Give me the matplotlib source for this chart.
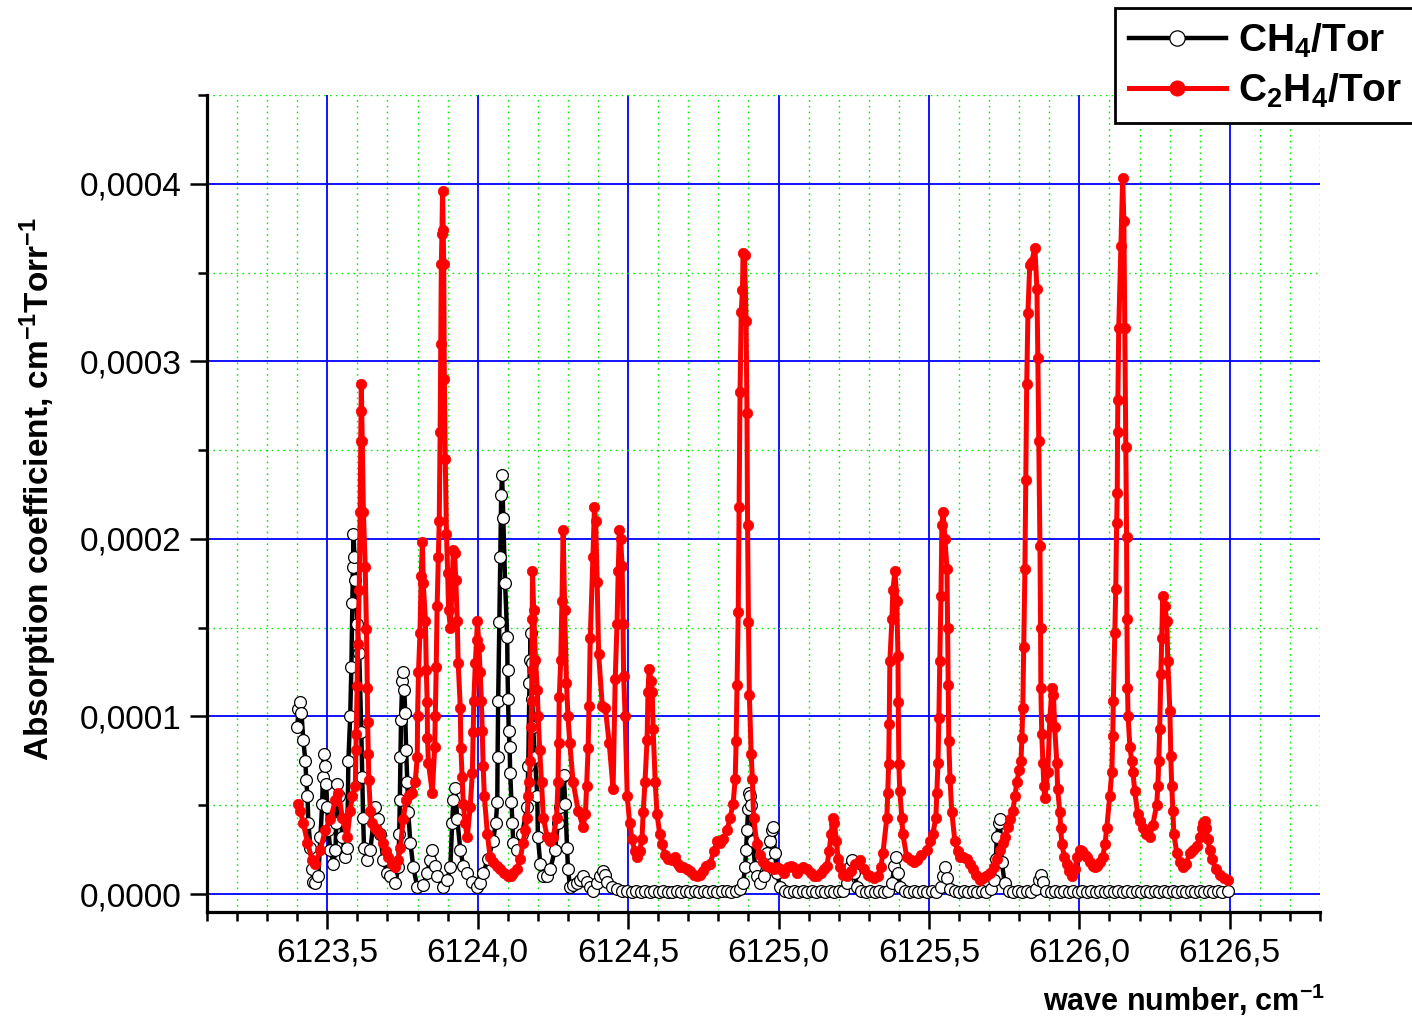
import numpy as np
import matplotlib
matplotlib.use("Agg")
import matplotlib.pyplot as plt
from matplotlib.ticker import MultipleLocator, FuncFormatter

# ---------------- data (x in cm-1, y in units of 1e-4 cm-1 Torr-1) ----------------
Y_UNIT = 1e-4

ch4_points = [
    (6123.400, 0.94), (6123.404, 1.04), (6123.410, 1.08), (6123.414, 1.02), (6123.420, 0.87),
    (6123.427, 0.75), (6123.430, 0.64), (6123.434, 0.55), (6123.437, 0.40), (6123.444, 0.26),
    (6123.450, 0.14), (6123.453, 0.07), (6123.460, 0.06), (6123.470, 0.10), (6123.477, 0.32),
    (6123.483, 0.51), (6123.485, 0.66), (6123.488, 0.79), (6123.493, 0.72), (6123.496, 0.62),
    (6123.500, 0.49), (6123.503, 0.36), (6123.510, 0.25), (6123.520, 0.17), (6123.527, 0.25),
    (6123.530, 0.40), (6123.533, 0.62), (6123.540, 0.55), (6123.550, 0.32), (6123.560, 0.21),
    (6123.566, 0.26), (6123.570, 0.75), (6123.576, 1.00), (6123.580, 1.28), (6123.583, 1.64),
    (6123.585, 1.84), (6123.587, 2.03), (6123.590, 1.90), (6123.593, 1.77), (6123.600, 1.52),
    (6123.606, 1.36), (6123.613, 0.91), (6123.616, 0.66), (6123.619, 0.43), (6123.622, 0.26),
    (6123.633, 0.19), (6123.643, 0.25), (6123.659, 0.49), (6123.669, 0.42), (6123.676, 0.34),
    (6123.686, 0.19), (6123.700, 0.12), (6123.709, 0.10), (6123.726, 0.06), (6123.736, 0.15),
    (6123.739, 0.34), (6123.741, 0.53), (6123.743, 0.77), (6123.745, 0.98), (6123.749, 1.20),
    (6123.752, 1.25), (6123.756, 1.15), (6123.759, 1.02), (6123.762, 0.81), (6123.766, 0.63),
    (6123.769, 0.46), (6123.776, 0.29), (6123.786, 0.15), (6123.799, 0.04), (6123.819, 0.05),
    (6123.832, 0.12), (6123.842, 0.19), (6123.849, 0.25), (6123.857, 0.16), (6123.865, 0.10),
    (6123.885, 0.04), (6123.899, 0.08), (6123.909, 0.15), (6123.915, 0.40), (6123.919, 0.53),
    (6123.925, 0.60), (6123.932, 0.42), (6123.942, 0.25), (6123.952, 0.16), (6123.965, 0.12),
    (6123.982, 0.07), (6123.998, 0.04), (6124.008, 0.06), (6124.018, 0.12), (6124.035, 0.20),
    (6124.051, 0.30), (6124.060, 0.40), (6124.065, 0.52), (6124.066, 0.77), (6124.068, 1.09),
    (6124.072, 1.53), (6124.075, 1.90), (6124.078, 2.25), (6124.081, 2.36), (6124.085, 2.12),
    (6124.091, 1.75), (6124.098, 1.45), (6124.099, 1.26), (6124.101, 1.10), (6124.103, 0.92),
    (6124.106, 0.83), (6124.108, 0.68), (6124.112, 0.52), (6124.115, 0.40), (6124.118, 0.29),
    (6124.131, 0.25), (6124.148, 0.34), (6124.164, 0.49), (6124.168, 0.72), (6124.172, 1.19),
    (6124.174, 1.32), (6124.176, 1.47), (6124.179, 1.30), (6124.181, 1.10), (6124.184, 0.94),
    (6124.190, 0.77), (6124.198, 0.55), (6124.200, 0.32), (6124.208, 0.17), (6124.218, 0.10),
    (6124.230, 0.10), (6124.241, 0.14), (6124.257, 0.25), (6124.267, 0.40), (6124.274, 0.49),
    (6124.281, 0.66), (6124.286, 0.67), (6124.291, 0.51), (6124.297, 0.26), (6124.300, 0.14),
    (6124.307, 0.04), (6124.318, 0.05), (6124.330, 0.06), (6124.340, 0.08), (6124.350, 0.10),
    (6124.364, 0.07), (6124.374, 0.04), (6124.384, 0.02), (6124.395, 0.06), (6124.407, 0.10),
    (6124.417, 0.13), (6124.424, 0.11), (6124.430, 0.07), (6124.445, 0.04), (6124.463, 0.03),
    (6124.480, 0.02), (6124.497, 0.02), (6124.512, 0.01), (6124.527, 0.02), (6124.542, 0.01),
    (6124.557, 0.02), (6124.572, 0.01), (6124.587, 0.02), (6124.602, 0.01), (6124.617, 0.02),
    (6124.632, 0.01), (6124.647, 0.01), (6124.662, 0.02), (6124.677, 0.01), (6124.692, 0.02),
    (6124.707, 0.01), (6124.722, 0.02), (6124.737, 0.01), (6124.752, 0.02), (6124.767, 0.01),
    (6124.782, 0.02), (6124.797, 0.01), (6124.812, 0.02), (6124.827, 0.02), (6124.842, 0.01),
    (6124.857, 0.02), (6124.872, 0.03), (6124.882, 0.06), (6124.889, 0.15), (6124.892, 0.25),
    (6124.895, 0.36), (6124.899, 0.48), (6124.902, 0.57), (6124.906, 0.55), (6124.909, 0.50),
    (6124.915, 0.30), (6124.922, 0.15), (6124.928, 0.10), (6124.938, 0.06), (6124.950, 0.10),
    (6124.962, 0.23), (6124.972, 0.30), (6124.978, 0.36), (6124.982, 0.38), (6124.988, 0.23),
    (6124.995, 0.12), (6125.005, 0.04), (6125.020, 0.02), (6125.035, 0.01), (6125.050, 0.02),
    (6125.065, 0.01), (6125.080, 0.02), (6125.095, 0.01), (6125.110, 0.02), (6125.125, 0.01),
    (6125.140, 0.02), (6125.155, 0.01), (6125.170, 0.02), (6125.185, 0.01), (6125.200, 0.02),
    (6125.215, 0.02), (6125.228, 0.06), (6125.238, 0.15), (6125.244, 0.19), (6125.252, 0.12),
    (6125.262, 0.04), (6125.275, 0.02), (6125.290, 0.01), (6125.305, 0.02), (6125.320, 0.01),
    (6125.335, 0.02), (6125.350, 0.01), (6125.365, 0.02), (6125.377, 0.06), (6125.385, 0.16),
    (6125.390, 0.21), (6125.397, 0.12), (6125.405, 0.04), (6125.420, 0.02), (6125.435, 0.01),
    (6125.450, 0.02), (6125.465, 0.01), (6125.480, 0.02), (6125.495, 0.01), (6125.510, 0.02),
    (6125.525, 0.01), (6125.540, 0.04), (6125.548, 0.10), (6125.553, 0.15), (6125.560, 0.09),
    (6125.570, 0.03), (6125.585, 0.02), (6125.600, 0.01), (6125.615, 0.02), (6125.630, 0.01),
    (6125.645, 0.02), (6125.660, 0.01), (6125.675, 0.02), (6125.690, 0.01), (6125.705, 0.03),
    (6125.715, 0.08), (6125.722, 0.20), (6125.726, 0.32), (6125.732, 0.40), (6125.736, 0.42),
    (6125.742, 0.18), (6125.752, 0.06), (6125.765, 0.02), (6125.780, 0.01), (6125.795, 0.02),
    (6125.810, 0.01), (6125.825, 0.02), (6125.840, 0.01), (6125.855, 0.03), (6125.865, 0.08),
    (6125.871, 0.11), (6125.879, 0.07), (6125.890, 0.02), (6125.905, 0.01), (6125.920, 0.02),
    (6125.935, 0.01), (6125.950, 0.02), (6125.965, 0.01), (6125.980, 0.02), (6125.995, 0.01),
    (6126.010, 0.02), (6126.025, 0.01), (6126.040, 0.02), (6126.055, 0.01), (6126.070, 0.02),
    (6126.085, 0.01), (6126.100, 0.02), (6126.115, 0.01), (6126.130, 0.02), (6126.145, 0.01),
    (6126.160, 0.02), (6126.175, 0.01), (6126.190, 0.02), (6126.205, 0.01), (6126.220, 0.02),
    (6126.235, 0.01), (6126.250, 0.02), (6126.265, 0.01), (6126.280, 0.02), (6126.295, 0.01),
    (6126.310, 0.02), (6126.325, 0.01), (6126.340, 0.02), (6126.355, 0.01), (6126.370, 0.02),
    (6126.385, 0.01), (6126.400, 0.02), (6126.415, 0.01), (6126.430, 0.02), (6126.445, 0.01),
    (6126.460, 0.02), (6126.475, 0.01), (6126.493, 0.02),
]

c2h4_points = [
    (6123.404, 0.51), (6123.410, 0.47), (6123.420, 0.40), (6123.434, 0.29), (6123.450, 0.19),
    (6123.460, 0.17), (6123.477, 0.25), (6123.493, 0.36), (6123.510, 0.42), (6123.527, 0.53),
    (6123.537, 0.57), (6123.550, 0.43), (6123.566, 0.32), (6123.576, 0.47), (6123.583, 0.55),
    (6123.593, 0.61), (6123.595, 0.81), (6123.596, 0.90), (6123.599, 1.17), (6123.601, 1.41),
    (6123.606, 1.71), (6123.609, 2.15), (6123.611, 2.55), (6123.612, 2.72), (6123.613, 2.87),
    (6123.616, 2.55), (6123.620, 2.15), (6123.626, 1.84), (6123.630, 1.49), (6123.633, 1.16),
    (6123.634, 0.97), (6123.636, 0.79), (6123.638, 0.64), (6123.643, 0.47), (6123.650, 0.40),
    (6123.659, 0.37), (6123.666, 0.36), (6123.676, 0.34), (6123.686, 0.29), (6123.695, 0.24),
    (6123.703, 0.21), (6123.715, 0.17), (6123.726, 0.15), (6123.735, 0.19), (6123.743, 0.26),
    (6123.752, 0.42), (6123.762, 0.53), (6123.772, 0.56), (6123.782, 0.57), (6123.792, 0.63),
    (6123.799, 0.77), (6123.800, 1.00), (6123.803, 1.25), (6123.808, 1.47), (6123.812, 1.79),
    (6123.816, 1.98), (6123.819, 1.75), (6123.826, 1.54), (6123.829, 1.26), (6123.832, 1.08),
    (6123.833, 0.88), (6123.836, 0.74), (6123.849, 0.57), (6123.857, 0.83), (6123.859, 1.00),
    (6123.862, 1.28), (6123.865, 1.62), (6123.869, 1.90), (6123.872, 2.10), (6123.875, 2.60),
    (6123.877, 3.10), (6123.879, 3.55), (6123.881, 3.72), (6123.883, 3.96), (6123.885, 3.74),
    (6123.887, 3.55), (6123.889, 2.90), (6123.892, 2.45), (6123.896, 2.03), (6123.900, 1.81),
    (6123.903, 1.60), (6123.909, 1.50), (6123.914, 1.70), (6123.919, 1.94), (6123.923, 1.92),
    (6123.927, 1.77), (6123.932, 1.54), (6123.935, 1.30), (6123.942, 1.05), (6123.944, 0.82),
    (6123.948, 0.66), (6123.952, 0.51), (6123.958, 0.40), (6123.965, 0.32), (6123.975, 0.49),
    (6123.982, 0.68), (6123.985, 0.91), (6123.987, 1.09), (6123.992, 1.30), (6123.996, 1.43),
    (6123.999, 1.54), (6124.004, 1.39), (6124.008, 1.25), (6124.012, 1.09), (6124.015, 0.92),
    (6124.018, 0.72), (6124.022, 0.55), (6124.032, 0.34), (6124.041, 0.21), (6124.051, 0.18),
    (6124.063, 0.16), (6124.075, 0.14), (6124.088, 0.12), (6124.100, 0.10), (6124.110, 0.10),
    (6124.118, 0.12), (6124.131, 0.14), (6124.141, 0.20), (6124.151, 0.29), (6124.158, 0.36),
    (6124.164, 0.43), (6124.168, 0.55), (6124.172, 0.63), (6124.174, 0.75), (6124.177, 0.94),
    (6124.179, 1.09), (6124.180, 1.26), (6124.181, 1.55), (6124.182, 1.82), (6124.186, 1.60),
    (6124.192, 1.32), (6124.198, 1.15), (6124.201, 1.00), (6124.206, 0.81), (6124.212, 0.63),
    (6124.218, 0.43), (6124.231, 0.32), (6124.241, 0.30), (6124.251, 0.32), (6124.262, 0.43),
    (6124.267, 0.63), (6124.269, 0.85), (6124.271, 1.11), (6124.276, 1.32), (6124.280, 1.65),
    (6124.284, 2.05), (6124.289, 1.60), (6124.295, 1.19), (6124.300, 1.00), (6124.306, 0.85),
    (6124.317, 0.63), (6124.334, 0.47), (6124.350, 0.38), (6124.358, 0.45), (6124.362, 0.61),
    (6124.367, 0.82), (6124.370, 1.06), (6124.374, 1.44), (6124.383, 1.90), (6124.388, 2.18),
    (6124.392, 2.10), (6124.397, 1.76), (6124.402, 1.35), (6124.414, 1.06), (6124.424, 1.05),
    (6124.437, 0.85), (6124.450, 0.59), (6124.457, 1.21), (6124.463, 1.52), (6124.467, 1.82),
    (6124.471, 2.05), (6124.475, 2.00), (6124.480, 1.85), (6124.483, 1.52), (6124.485, 1.23),
    (6124.490, 1.00), (6124.497, 0.55), (6124.505, 0.40), (6124.513, 0.31), (6124.522, 0.24),
    (6124.530, 0.21), (6124.538, 0.24), (6124.546, 0.31), (6124.550, 0.46), (6124.556, 0.63),
    (6124.563, 0.87), (6124.566, 1.14), (6124.570, 1.27), (6124.576, 1.20), (6124.580, 1.14),
    (6124.583, 0.93), (6124.590, 0.63), (6124.596, 0.45), (6124.605, 0.34), (6124.613, 0.28),
    (6124.623, 0.22), (6124.633, 0.20), (6124.645, 0.19), (6124.655, 0.21), (6124.665, 0.17),
    (6124.673, 0.15), (6124.683, 0.15), (6124.695, 0.14), (6124.706, 0.13), (6124.718, 0.11),
    (6124.729, 0.10), (6124.740, 0.11), (6124.749, 0.13), (6124.760, 0.16), (6124.772, 0.17),
    (6124.785, 0.24), (6124.796, 0.30), (6124.806, 0.29), (6124.816, 0.31), (6124.829, 0.36),
    (6124.839, 0.43), (6124.849, 0.51), (6124.856, 0.65), (6124.859, 0.86), (6124.862, 1.18),
    (6124.866, 1.59), (6124.869, 2.18), (6124.872, 2.83), (6124.876, 3.28), (6124.880, 3.40),
    (6124.882, 3.61), (6124.887, 3.60), (6124.892, 3.23), (6124.895, 2.71), (6124.897, 2.08),
    (6124.900, 1.53), (6124.903, 1.12), (6124.909, 0.79), (6124.913, 0.65), (6124.917, 0.43),
    (6124.928, 0.28), (6124.938, 0.22), (6124.948, 0.18), (6124.960, 0.16), (6124.972, 0.15),
    (6124.985, 0.14), (6124.995, 0.15), (6125.005, 0.14), (6125.018, 0.12), (6125.030, 0.15),
    (6125.040, 0.16), (6125.048, 0.15), (6125.060, 0.12), (6125.070, 0.14), (6125.082, 0.15),
    (6125.095, 0.14), (6125.108, 0.12), (6125.118, 0.10), (6125.128, 0.10), (6125.140, 0.12),
    (6125.150, 0.14), (6125.161, 0.16), (6125.168, 0.24), (6125.175, 0.34), (6125.181, 0.43),
    (6125.186, 0.40), (6125.192, 0.30), (6125.198, 0.20), (6125.204, 0.15), (6125.215, 0.11),
    (6125.227, 0.10), (6125.240, 0.13), (6125.255, 0.17), (6125.271, 0.19), (6125.285, 0.14),
    (6125.296, 0.11), (6125.304, 0.10), (6125.318, 0.09), (6125.330, 0.10), (6125.340, 0.15),
    (6125.347, 0.23), (6125.360, 0.43), (6125.363, 0.57), (6125.366, 0.73), (6125.368, 0.96),
    (6125.370, 1.31), (6125.377, 1.55), (6125.380, 1.71), (6125.387, 1.82), (6125.393, 1.65),
    (6125.397, 1.34), (6125.398, 1.08), (6125.400, 0.73), (6125.403, 0.58), (6125.410, 0.43),
    (6125.413, 0.34), (6125.426, 0.21), (6125.440, 0.19), (6125.450, 0.18), (6125.460, 0.19),
    (6125.475, 0.22), (6125.493, 0.25), (6125.505, 0.30), (6125.513, 0.34), (6125.523, 0.43),
    (6125.526, 0.57), (6125.530, 0.74), (6125.533, 0.99), (6125.536, 1.31), (6125.540, 1.68),
    (6125.543, 2.08), (6125.547, 2.15), (6125.553, 2.00), (6125.560, 1.83), (6125.562, 1.50),
    (6125.564, 1.18), (6125.566, 0.86), (6125.570, 0.65), (6125.576, 0.46), (6125.586, 0.30),
    (6125.595, 0.24), (6125.603, 0.21), (6125.613, 0.21), (6125.625, 0.20), (6125.635, 0.17),
    (6125.646, 0.14), (6125.657, 0.11), (6125.669, 0.08), (6125.680, 0.09), (6125.690, 0.10),
    (6125.702, 0.12), (6125.715, 0.15), (6125.726, 0.20), (6125.736, 0.25), (6125.745, 0.29),
    (6125.752, 0.32), (6125.762, 0.38), (6125.769, 0.42), (6125.779, 0.47), (6125.786, 0.55),
    (6125.792, 0.63), (6125.800, 0.70), (6125.806, 0.75), (6125.809, 0.88), (6125.812, 1.05),
    (6125.815, 1.39), (6125.819, 1.83), (6125.822, 2.33), (6125.825, 2.87), (6125.829, 3.27),
    (6125.835, 3.54), (6125.842, 3.56), (6125.852, 3.64), (6125.859, 3.41), (6125.862, 3.02),
    (6125.865, 2.55), (6125.869, 1.96), (6125.871, 1.50), (6125.872, 1.16), (6125.875, 0.90),
    (6125.879, 0.74), (6125.882, 0.61), (6125.885, 0.54), (6125.895, 0.69), (6125.902, 0.99),
    (6125.909, 1.16), (6125.914, 1.12), (6125.918, 0.94), (6125.925, 0.74), (6125.928, 0.59),
    (6125.935, 0.46), (6125.938, 0.37), (6125.942, 0.28), (6125.950, 0.21), (6125.958, 0.17),
    (6125.966, 0.13), (6125.975, 0.10), (6125.985, 0.14), (6125.993, 0.21), (6126.001, 0.25),
    (6126.010, 0.24), (6126.018, 0.22), (6126.025, 0.21), (6126.035, 0.18), (6126.045, 0.16),
    (6126.051, 0.15), (6126.060, 0.16), (6126.070, 0.18), (6126.078, 0.21), (6126.085, 0.28),
    (6126.091, 0.37), (6126.101, 0.55), (6126.108, 0.69), (6126.111, 0.89), (6126.113, 1.09),
    (6126.118, 1.47), (6126.121, 1.72), (6126.124, 2.09), (6126.126, 2.26), (6126.127, 2.60),
    (6126.128, 2.78), (6126.131, 3.19), (6126.138, 3.65), (6126.144, 4.03), (6126.148, 3.79),
    (6126.151, 3.19), (6126.154, 2.52), (6126.157, 2.01), (6126.158, 1.55), (6126.160, 1.16),
    (6126.162, 1.00), (6126.168, 0.83), (6126.174, 0.75), (6126.178, 0.69), (6126.184, 0.58),
    (6126.194, 0.45), (6126.202, 0.41), (6126.211, 0.37), (6126.222, 0.34), (6126.234, 0.32),
    (6126.244, 0.39), (6126.257, 0.50), (6126.261, 0.61), (6126.264, 0.75), (6126.267, 0.93),
    (6126.271, 1.24), (6126.274, 1.44), (6126.277, 1.68), (6126.284, 1.62), (6126.291, 1.54),
    (6126.294, 1.31), (6126.301, 1.03), (6126.304, 0.78), (6126.307, 0.61), (6126.311, 0.47),
    (6126.314, 0.34), (6126.324, 0.23), (6126.334, 0.18), (6126.344, 0.15), (6126.355, 0.17),
    (6126.367, 0.23), (6126.378, 0.25), (6126.390, 0.27), (6126.400, 0.32), (6126.407, 0.37),
    (6126.412, 0.40), (6126.417, 0.41), (6126.422, 0.37), (6126.427, 0.31), (6126.433, 0.25),
    (6126.440, 0.20), (6126.453, 0.14), (6126.467, 0.11), (6126.480, 0.09), (6126.493, 0.08),
]

series_labels = [r"CH$_4$/Tor", r"C$_2$H$_4$/Tor"]
x_label = r"wave number, cm$^{-1}$"
y_label = r"Absorption coefficient, cm$^{-1}$Torr$^{-1}$"

# ---------------- style ----------------
plt.rcParams["font.family"] = ["Liberation Sans", "DejaVu Sans"]
plt.rcParams["mathtext.fontset"] = "custom"
plt.rcParams["mathtext.rm"] = "Liberation Sans:bold"
plt.rcParams["mathtext.bf"] = "Liberation Sans:bold"
plt.rcParams["mathtext.it"] = "Liberation Sans:bold"
plt.rcParams["axes.unicode_minus"] = True

ch4_x = np.array([p[0] for p in ch4_points])
ch4_y = np.array([p[1] for p in ch4_points]) * Y_UNIT
c2h4_x = np.array([p[0] for p in c2h4_points])
c2h4_y = np.array([p[1] for p in c2h4_points]) * Y_UNIT

fig = plt.figure(figsize=(14.12, 10.19), dpi=100)
ax = fig.add_axes([207 / 1412, 107 / 1019, 1113 / 1412, 817 / 1019])

l1, = ax.plot(ch4_x, ch4_y, "-", color="black", lw=3.2, marker="o", ms=8.5,
              mfc="white", mec="black", mew=0.9, zorder=3, label=series_labels[0])
l2, = ax.plot(c2h4_x, c2h4_y, "-", color="#ff0000", lw=3.6, marker="o", ms=7.5,
              mfc="#ff0000", mec="#ff0000", mew=0.5, zorder=4, label=series_labels[1])

ax.set_xlim(6123.1, 6126.8)
ax.set_ylim(-0.0000101, 0.00045)

ax.xaxis.set_major_locator(MultipleLocator(0.5))
ax.xaxis.set_minor_locator(MultipleLocator(0.1))
ax.yaxis.set_major_locator(MultipleLocator(0.0001))
ax.yaxis.set_minor_locator(MultipleLocator(0.00005))
ax.xaxis.set_major_formatter(FuncFormatter(lambda v, p: f"{v:.1f}".replace(".", ",")))
ax.yaxis.set_major_formatter(FuncFormatter(lambda v, p: f"{v:.4f}".replace(".", ",")))

ax.grid(which="major", color="#0000ff", lw=1.3, ls="-", zorder=1)
ax.grid(which="minor", color="#00ee00", lw=1.0, ls=(0, (1.2, 3)), zorder=1)
ax.set_axisbelow(True)

for s in ("top", "right"):
    ax.spines[s].set_visible(False)
for s in ("left", "bottom"):
    ax.spines[s].set_linewidth(2.3)
    ax.spines[s].set_color("black")

ax.tick_params(which="major", direction="out", length=12.5, width=1.8, labelsize=24, pad=6)
ax.tick_params(which="minor", direction="out", length=6.5, width=1.8)

ax.set_ylabel(y_label, fontsize=24, fontweight="bold")
ax.yaxis.set_label_coords(-0.133, 0.518)
ax.set_xlabel(x_label, fontsize=22, fontweight="bold", ha="right", va="center")
ax.xaxis.set_label_coords(1.0045, -0.108)

leg = fig.legend(handles=[l1, l2], loc="upper left",
                 bbox_to_anchor=(1115 / 1412, 1 - 8 / 1019),
                 bbox_transform=fig.transFigure,
                 prop={"size": 28, "weight": "bold"}, numpoints=1,
                 handlelength=2.5, handletextpad=0.3, borderpad=0.35,
                 labelspacing=0.3, fancybox=False, framealpha=1,
                 edgecolor="black", borderaxespad=0)
leg.get_frame().set_linewidth(2.0)
for h in leg.legend_handles:
    h.set_markersize(11)

fig.savefig("out.png", dpi=100)
